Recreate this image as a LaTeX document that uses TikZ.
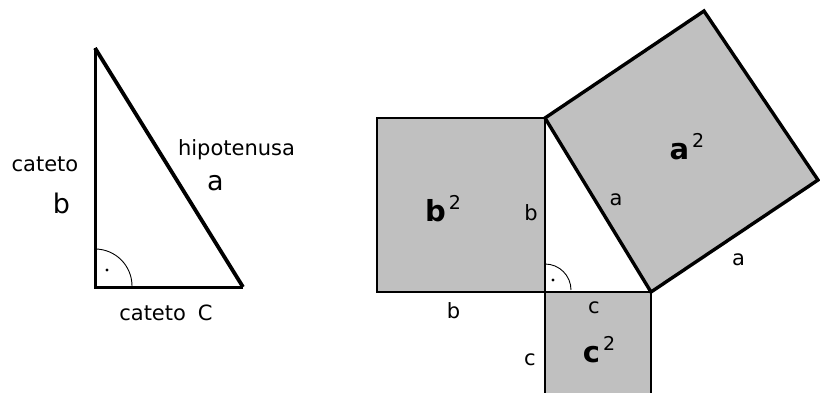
\documentclass[tikz,border=0pt]{standalone}
\usepackage{fontspec}
\setmainfont{DejaVu Sans}
\usepackage{xcolor}
\usetikzlibrary{positioning, calc}
\definecolor{squaregray}{RGB}{192, 192, 192}
\newcommand{\sqlabel}[1]{\textbf{#1}\hspace{3pt}\raisebox{12pt}{\fontsize{19}{19}\selectfont 2}}

\begin{document}
\begin{tikzpicture}[x=1pt, y=-1pt,
    leg/.style={line width=3pt},
    hyp/.style={line width=3.8pt},
    sqbox/.style={fill=squaregray, draw=black, line width=2.8pt, line join=miter},
    rightmark/.style={line width=0.9pt},
    lbl/.style={font=\fontsize{21}{21}\selectfont, inner sep=0pt, anchor=base},
    biglbl/.style={font=\fontsize{27}{27}\selectfont, inner sep=0pt, anchor=base},
    arealbl/.style={font=\fontsize{29}{29}\selectfont, inner sep=0pt, anchor=base}]
  \clip (0,0) rectangle (820,392);
  \fill[white] (0,0) rectangle (820,392);

  % Left triangle
  \coordinate (top) at (95,48);
  \coordinate (rgt) at (95,287);
  \coordinate (end) at (243,287);
  \draw[leg] (top) -- (rgt) -- (end);
  \draw[hyp] (top) -- (end);
  \draw[rightmark] ($(rgt)+(0,-38)$) arc[start angle=-90, end angle=0, radius=37];
  \fill (107,270) circle[radius=1.7pt];

  \node[lbl] (catb) at (45,171) {cateto};
  \node[biglbl] (legb) at (61.5,213) {b};
  \node[lbl] (hipo) at (236.5,155) {hipotenusa};
  \node[biglbl] (hypa) at (215.5,190) {a};
  \node[lbl] (catc) at (166,320) {cateto\hspace{12pt}C};

  % Right triangle with squares
  \coordinate (B) at (545,118);
  \coordinate (R) at (545,292);
  \coordinate (C) at (651,292);
  \coordinate (A1) at (704,11);
  \coordinate (A2) at (818,180);

  \draw[sqbox] (377,118) rectangle (R);
  \draw[sqbox] (R) rectangle (651,400);
  \draw[sqbox, line width=3.4pt] (B) -- (A1) -- (A2) -- (C) -- cycle;
  \draw[leg, line width=2.8pt] (B) -- (R) -- (C);
  \draw[rightmark] ($(R)+(0,-28)$) arc[start angle=-90, end angle=0, radius=26];
  \fill (553,280) circle[radius=1.6pt];

  \node[arealbl] (bsq) at (443,221) {\sqlabel{b}};
  \node[arealbl] (asq) at (687,159) {\sqlabel{a}};
  \node[arealbl] (csq) at (599,362) {\sqlabel{c}};

  \node[lbl] (bin) at (531,220) {b};
  \node[lbl] (bout) at (453.5,318) {b};
  \node[lbl] (ain) at (616,205) {a};
  \node[lbl] (aout) at (738.5,265) {a};
  \node[lbl] (cin) at (594,313) {c};
  \node[lbl] (cout) at (530,365) {c};
\end{tikzpicture}
\end{document}
